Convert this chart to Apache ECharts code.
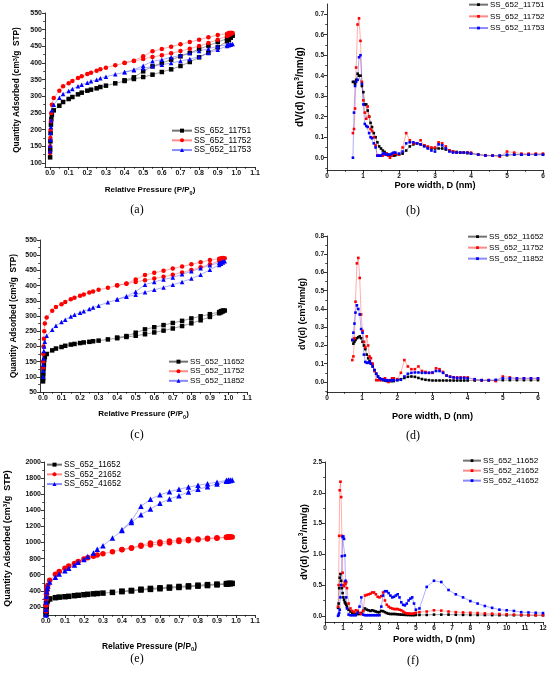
<!DOCTYPE html>
<html>
<head>
<meta charset="utf-8">
<script src="https://cdn.jsdelivr.net/npm/echarts@6/dist/echarts.min.js"></script>
<style>
  html, body { margin: 0; padding: 0; background: #fff; }
  #main { width: 550px; height: 674px; }
</style>
</head>
<body>
<div id="main"></div>
<script>
// ---- isotherms: relative pressure grid (adsorption up, desorption down)
var P_ADS = [0.0005, 0.001, 0.002, 0.003, 0.005, 0.007, 0.01, 0.02, 0.05, 0.07,
  0.1, 0.12, 0.15, 0.17, 0.2, 0.22, 0.25, 0.27, 0.3, 0.35, 0.4, 0.45, 0.5, 0.55,
  0.6, 0.65, 0.7, 0.75, 0.8, 0.85, 0.9, 0.95, 0.96, 0.97, 0.98];
var P_DES = [0.97, 0.96, 0.95, 0.9, 0.85, 0.8, 0.75, 0.7, 0.65, 0.6, 0.55, 0.5, 0.45, 0.4];

// quantity adsorbed, cm3/g STP
var Q_11751_ADS = [117, 140, 165, 190, 215, 232, 245, 258, 272, 283, 292, 298, 306, 311, 317, 320, 324, 328,
  332, 339, 346, 352, 358, 365, 373, 381, 391, 403, 417, 431, 447, 465, 470, 476, 482];
var Q_11751_DES = [482, 478, 473, 463, 452, 442, 430, 420, 410, 400, 390, 375, 357, 348];
var Q_11752_ADS = [130, 150, 175, 200, 225, 250, 275, 295, 317, 330, 339, 346, 355, 360, 367, 371, 377, 381,
  386, 393, 400, 406, 412, 418, 423, 429, 436, 443, 451, 460, 470, 481, 484, 487, 490];
var Q_11752_DES = [491, 490, 488, 484, 477, 470, 463, 456, 449, 442, 435, 420, 407, 401];
var Q_11753_ADS = [135, 152, 170, 190, 208, 228, 258, 275, 296, 307, 316, 322, 330, 335, 341, 345, 350, 354,
  359, 366, 372, 378, 384, 390, 395, 400, 406, 412, 419, 430, 440, 451, 453, 455, 457];
var Q_11753_DES = [457, 456, 455, 450, 443, 436, 430, 423, 417, 410, 405, 392, 380, 373];
var Q_11652_ADS = [85, 95, 110, 125, 140, 155, 165, 175, 187, 193, 198, 202, 206, 208, 211, 213, 215, 217,
  219, 223, 227, 231, 235, 240, 246, 252, 259, 267, 276, 286, 297, 309, 312, 315, 318];
var Q_11652_DES = [318, 316, 313, 306, 299, 292, 284, 277, 270, 263, 256, 245, 234, 229];
var Q_11852_ADS = [100, 120, 140, 160, 185, 200, 215, 235, 255, 268, 280, 288, 298, 304, 311, 316, 323, 328,
  334, 345, 354, 363, 370, 378, 386, 394, 403, 412, 423, 436, 452, 468, 472, 476, 480];
var Q_11852_DES = [480, 478, 475, 467, 457, 447, 437, 427, 420, 412, 403, 380, 365, 355];
var Q_11652E_ADS = [110, 150, 200, 240, 270, 285, 293, 300, 315, 322, 327, 332, 340, 345, 352, 357, 363, 367,
  372, 381, 390, 399, 410, 418, 426, 434, 442, 450, 458, 466, 474, 483, 486, 489, 492];
var Q_11652E_DES = [493, 492, 490, 484, 477, 470, 462, 454, 446, 438, 430, 420, 405, 396];
var Q_21652_ADS = [150, 220, 300, 360, 410, 440, 470, 530, 605, 640, 680, 710, 740, 765, 795, 810, 830, 845,
  860, 885, 910, 930, 955, 970, 984, 998, 1012, 1023, 1034, 1044, 1053, 1062, 1065, 1068, 1070];
var Q_21652_DES = [1072, 1071, 1068, 1060, 1052, 1045, 1038, 1030, 1018, 1008, 995, 965, 935, 912];
var Q_41652_ADS = [100, 170, 260, 330, 390, 430, 460, 510, 570, 610, 650, 680, 720, 755, 790, 825, 870, 915,
  960, 1055, 1150, 1250, 1345, 1415, 1488, 1540, 1582, 1628, 1662, 1692, 1727, 1760, 1765, 1770, 1775];
var Q_41652_DES = [1778, 1776, 1772, 1750, 1730, 1710, 1688, 1662, 1632, 1592, 1538, 1450, 1270, 1160];

// ---- pore size distributions, pore width in nm
var D_PSD = [0.72, 0.75, 0.78, 0.81, 0.85, 0.89, 0.93, 0.97, 1.01, 1.05, 1.09, 1.13, 1.17, 1.21,
  1.25, 1.3, 1.35, 1.4, 1.45, 1.5, 1.55, 1.6, 1.65, 1.7, 1.75, 1.8, 1.85, 1.9,
  2.0, 2.1, 2.2, 2.3, 2.4, 2.5, 2.6, 2.7, 2.8, 2.9, 3.0, 3.1, 3.2, 3.3, 3.4, 3.5, 3.6, 3.7, 3.8, 3.9, 4.0,
  4.2, 4.4, 4.6, 4.8, 5.0, 5.2, 5.4, 5.6, 5.8, 6.0];
var D_WIDE = [0.72, 0.75, 0.78, 0.81, 0.85, 0.89, 0.93, 0.97, 1.01, 1.05, 1.09, 1.13, 1.17, 1.21,
  1.3, 1.4, 1.5, 1.6, 1.7, 1.8, 1.9,
  2.0, 2.1, 2.2, 2.3, 2.4, 2.5, 2.6, 2.7, 2.8, 2.9, 3.0, 3.1, 3.2, 3.3, 3.4, 3.5, 3.6, 3.7, 3.8, 3.9, 4.0,
  4.1, 4.2, 4.3, 4.4, 4.5, 4.6, 4.7, 4.8, 4.9, 5.0,
  5.2, 5.6, 6.0, 6.4, 6.8, 7.2, 7.6, 8.0, 8.4, 8.8, 9.2, 9.6, 10.0, 10.4, 10.8, 11.2, 11.6, 12.0];

// dV(d), cm3/nm/g
var V_11751 = [0.37, 0.37, 0.36, 0.38, 0.41, 0.40, 0.40, 0.35, 0.32, 0.26, 0.26, 0.23, 0.20, 0.17,
  0.15, 0.12, 0.10, 0.075, 0.055, 0.045, 0.035, 0.028, 0.02, 0.015, 0.01, 0.01, 0.01, 0.012,
  0.015, 0.02, 0.035, 0.055, 0.065, 0.07, 0.065, 0.06, 0.05, 0.045, 0.045, 0.045, 0.045, 0.04, 0.035, 0.03, 0.028, 0.025, 0.025, 0.022, 0.02,
  0.015, 0.012, 0.01, 0.01, 0.012, 0.015, 0.015, 0.015, 0.015, 0.015];
var V_11752 = [0.12, 0.14, 0.24, 0.44, 0.65, 0.68, 0.57, 0.37, 0.28, 0.22, 0.19, 0.25, 0.20, 0.14,
  0.13, 0.10, 0.06, 0.01, 0.01, 0.01, 0.01, 0.015, 0.02, 0.01, 0.0, 0.01, 0.02, 0.02,
  0.015, 0.05, 0.12, 0.085, 0.07, 0.07, 0.085, 0.06, 0.055, 0.05, 0.05, 0.075, 0.07, 0.055, 0.035, 0.03, 0.025, 0.025, 0.025, 0.025, 0.025,
  0.015, 0.01, 0.01, 0.005, 0.03, 0.025, 0.02, 0.02, 0.02, 0.02];
var V_11753 = [0.0, 0.22, 0.35, 0.37, 0.38, 0.49, 0.50, 0.36, 0.26, 0.165, 0.155, 0.15, 0.12, 0.10,
  0.095, 0.07, 0.05, 0.01, 0.01, 0.01, 0.02, 0.02, 0.015, 0.015, 0.015, 0.02, 0.025, 0.025,
  0.02, 0.03, 0.07, 0.075, 0.075, 0.07, 0.065, 0.055, 0.045, 0.035, 0.03, 0.065, 0.06, 0.045, 0.03, 0.025, 0.025, 0.025, 0.025, 0.025, 0.02,
  0.015, 0.01, 0.01, 0.01, 0.015, 0.015, 0.015, 0.015, 0.015, 0.015];
var V_11652 = [0.23, 0.21, 0.22, 0.23, 0.24, 0.245, 0.25, 0.24, 0.22, 0.20, 0.18, 0.15, 0.13, 0.115,
  0.10, 0.085, 0.065, 0.045, 0.03, 0.02, 0.015, 0.01, 0.008, 0.005, 0.005, 0.005, 0.005, 0.005,
  0.01, 0.015, 0.022, 0.028, 0.03, 0.028, 0.022, 0.016, 0.012, 0.01, 0.008, 0.008, 0.008, 0.008, 0.008, 0.008, 0.008, 0.008, 0.008, 0.008, 0.008,
  0.008, 0.008, 0.008, 0.008, 0.01, 0.01, 0.01, 0.01, 0.01, 0.01];
var V_11852 = [0.23, 0.27, 0.32, 0.38, 0.42, 0.40, 0.37, 0.29, 0.27, 0.15, 0.11, 0.105, 0.105, 0.11,
  0.10, 0.085, 0.065, 0.045, 0.03, 0.02, 0.015, 0.012, 0.01, 0.008, 0.008, 0.008, 0.01, 0.01,
  0.01, 0.012, 0.03, 0.045, 0.05, 0.052, 0.052, 0.05, 0.05, 0.05, 0.052, 0.06, 0.06, 0.05, 0.035, 0.028, 0.025, 0.022, 0.022, 0.022, 0.02,
  0.015, 0.01, 0.01, 0.012, 0.02, 0.02, 0.02, 0.02, 0.02, 0.02];
var F_11652 = [0.13, 0.20, 0.45, 0.62, 0.68, 0.57, 0.45, 0.37, 0.30, 0.26, 0.22, 0.20, 0.18, 0.15,
  0.10, 0.07, 0.05, 0.04, 0.03, 0.03, 0.03,
  0.04, 0.08, 0.12, 0.10, 0.09, 0.08, 0.09, 0.08, 0.07, 0.06, 0.06, 0.08, 0.075, 0.06, 0.045, 0.035, 0.03, 0.03, 0.03, 0.028, 0.025,
  0.022, 0.02, 0.018, 0.016, 0.015, 0.014, 0.013, 0.012, 0.012, 0.015,
  0.015, 0.015, 0.02, 0.02, 0.02, 0.018, 0.016, 0.015, 0.014, 0.013, 0.012, 0.011, 0.01, 0.01, 0.01, 0.01, 0.01, 0.01];
var F_21652 = [0.15, 0.50, 1.30, 2.04, 2.18, 1.93, 1.30, 0.70, 0.50, 0.48, 0.55, 0.52, 0.55, 0.45,
  0.20, 0.12, 0.08, 0.06, 0.09, 0.08, 0.05,
  0.03, 0.08, 0.33, 0.34, 0.35, 0.36, 0.38, 0.38, 0.35, 0.31, 0.30, 0.32, 0.38, 0.25, 0.18, 0.15, 0.13, 0.12, 0.11, 0.11, 0.11,
  0.10, 0.09, 0.07, 0.05, 0.04, 0.04, 0.035, 0.035, 0.04, 0.05,
  0.06, 0.07, 0.09, 0.085, 0.07, 0.06, 0.055, 0.05, 0.045, 0.04, 0.035, 0.03, 0.025, 0.02, 0.015, 0.012, 0.01, 0.01];
var F_41652 = [0.0, 0.02, 0.05, 0.10, 0.30, 0.50, 0.97, 1.28, 1.29, 1.25, 0.98, 0.57, 0.30, 0.12,
  0.02, 0.01, 0.01, 0.01, 0.01, 0.05, 0.15,
  0.30, 0.02, 0.01, 0.01, 0.01, 0.01, 0.01, 0.01, 0.01, 0.01, 0.01, 0.15, 0.33, 0.40, 0.40, 0.37, 0.33, 0.30, 0.31, 0.33, 0.35,
  0.30, 0.22, 0.18, 0.17, 0.20, 0.25, 0.28, 0.30, 0.20, 0.10,
  0.12, 0.47, 0.57, 0.55, 0.42, 0.35, 0.30, 0.24, 0.20, 0.16, 0.13, 0.10, 0.09, 0.08, 0.06, 0.055, 0.05, 0.045];

// ---- tick labels
var TICKS_P = [0, 0.1, 0.2, 0.3, 0.4, 0.5, 0.6, 0.7, 0.8, 0.9, 1.0, 1.1];
var TICKS_D6 = [0, 1, 2, 3, 4, 5, 6];
var TICKS_D12 = [0, 1, 2, 3, 4, 5, 6, 7, 8, 9, 10, 11, 12];
var TICKS_QA = [100, 150, 200, 250, 300, 350, 400, 450, 500, 550];
var TICKS_QC = [50, 100, 150, 200, 250, 300, 350, 400, 450, 500, 550];
var TICKS_QE = [200, 400, 600, 800, 1000, 1200, 1400, 1600, 1800, 2000];
var TICKS_VB = [0, 0.1, 0.2, 0.3, 0.4, 0.5, 0.6, 0.7];
var TICKS_VD = [0, 0.1, 0.2, 0.3, 0.4, 0.5, 0.6, 0.7, 0.8];
var TICKS_VF = [0, 0.5, 1.0, 1.5, 2.0, 2.5];

var FONT = 'Liberation Sans, Arial, sans-serif';
var BLACK = '#000000', RED = '#ff0000', BLUE = '#0000ff';

function loop(ads, des) {
  return P_ADS.map(function (p, i) { return [p, ads[i]]; })
    .concat(P_DES.map(function (p, i) { return [p, des[i]]; }));
}
function pairs(xs, ys) {
  return xs.map(function (x, i) { return [x, ys[i]]; });
}
// minor ticks half way between the labelled ones
function mids(ticks, min, max) {
  var out = [];
  for (var i = 0; i < ticks.length; i++) {
    var step = i < ticks.length - 1 ? ticks[i + 1] - ticks[i] : ticks[i] - ticks[i - 1];
    [ticks[i] - step / 2, ticks[i] + step / 2].forEach(function (m) {
      m = +m.toFixed(4);
      if (m > min && m < max && out.indexOf(m) < 0) out.push(m);
    });
  }
  return out;
}

var XNAME_P = 'Relative Pressure (P/P{sub|0})';
var XNAME_D = 'Pore width, D (nm)';
var YNAME_Q = 'Quantity Adsorbed (cm{sup|3}/g  STP)';
var YNAME_V = 'dV(d) (cm{sup|3}/nm/g)';

var fix1 = function (v) { return v.toFixed(1); };
var int0 = function (v) { return String(Math.round(v)); };

// layout of the six panels
var panels = [
  { grid: { left: 45, top: 13, width: 210, height: 154 },
    x: { min: -0.027, max: 1.1, ticks: TICKS_P, fmt: fix1, name: XNAME_P, gap: 17, fs: 8, ls: 7 },
    y: { min: 88, max: 550, ticks: TICKS_QA, fmt: int0, name: YNAME_Q, gap: 23, fs: 8.3, ls: 7 },
    legend: { left: 171, top: 126, w: 20, gap: 0.4, fs: 8.4 }, tag: '(a)', tagPos: [137, 210] },
  { grid: { left: 327, top: 4, width: 216, height: 166 },
    x: { min: 0, max: 6, ticks: TICKS_D6, fmt: int0, name: XNAME_D, gap: 10, fs: 9.2, ls: 6.5 },
    y: { min: -0.06, max: 0.75, ticks: TICKS_VB, fmt: fix1, name: YNAME_V, gap: 21, fs: 10, ls: 6.5 },
    legend: { left: 468, top: 0, w: 19, gap: 2.4, fs: 8 }, tag: '(b)', tagPos: [413, 211] },
  { grid: { left: 40, top: 240, width: 207, height: 152 },
    x: { min: -0.016, max: 1.1, ticks: TICKS_P, fmt: fix1, name: XNAME_P, gap: 16, fs: 8, ls: 7 },
    y: { min: 50, max: 550, ticks: TICKS_QC, fmt: int0, name: YNAME_Q, gap: 21, fs: 8.2, ls: 7 },
    legend: { left: 168, top: 357, w: 19, gap: 0.3, fs: 8 }, tag: '(c)', tagPos: [137, 435] },
  { grid: { left: 327, top: 236, width: 211, height: 156 },
    x: { min: 0, max: 6, ticks: TICKS_D6, fmt: int0, name: XNAME_D, gap: 20, fs: 9.2, ls: 6.5 },
    y: { min: -0.055, max: 0.8, ticks: TICKS_VD, fmt: fix1, name: YNAME_V, gap: 19, fs: 9, ls: 6.5 },
    legend: { left: 467, top: 232, w: 19, gap: 1.7, fs: 8 }, tag: '(d)', tagPos: [413, 436] },
  { grid: { left: 44, top: 462, width: 211, height: 153 },
    x: { min: -0.01, max: 1.1, ticks: TICKS_P, fmt: fix1, name: XNAME_P, gap: 25, fs: 8.4, ls: 7 },
    y: { min: 100, max: 2000, ticks: TICKS_QE, fmt: int0, name: YNAME_Q, gap: 31, fs: 9, ls: 7 },
    legend: { left: 46, top: 460, w: 15, gap: 0.4, fs: 8.3 }, tag: '(e)', tagPos: [137, 659] },
  { grid: { left: 325, top: 462, width: 218, height: 160 },
    x: { min: 0, max: 12, ticks: TICKS_D12, fmt: int0, name: XNAME_D, gap: 13, fs: 9.3, ls: 6.5 },
    y: { min: -0.1, max: 2.5, ticks: TICKS_VF, fmt: fix1, name: YNAME_V, gap: 15, fs: 9.5, ls: 6.5 },
    legend: { left: 462, top: 456, w: 18, gap: 0.7, fs: 8.1 }, tag: '(f)', tagPos: [413, 661] }
];

// series per panel: [name, data, colour, symbol]
var panelSeries = [
  [['SS_652_11751', loop(Q_11751_ADS, Q_11751_DES), BLACK, 'rect'],
   ['SS_652_11752', loop(Q_11752_ADS, Q_11752_DES), RED, 'circle'],
   ['SS_652_11753', loop(Q_11753_ADS, Q_11753_DES), BLUE, 'triangle']],
  [['SS_652_11751', pairs(D_PSD, V_11751), BLACK, 'rect'],
   ['SS_652_11752', pairs(D_PSD, V_11752), RED, 'rect'],
   ['SS_652_11753', pairs(D_PSD, V_11753), BLUE, 'rect']],
  [['SS_652_11652', loop(Q_11652_ADS, Q_11652_DES), BLACK, 'rect'],
   ['SS_652_11752', loop(Q_11752_ADS, Q_11752_DES), RED, 'circle'],
   ['SS_652_11852', loop(Q_11852_ADS, Q_11852_DES), BLUE, 'triangle']],
  [['SS_652_11652', pairs(D_PSD, V_11652), BLACK, 'rect'],
   ['SS_652_11752', pairs(D_PSD, V_11752), RED, 'rect'],
   ['SS_652_11852', pairs(D_PSD, V_11852), BLUE, 'rect']],
  [['SS_652_11652', loop(Q_11652E_ADS, Q_11652E_DES), BLACK, 'rect'],
   ['SS_652_21652', loop(Q_21652_ADS, Q_21652_DES), RED, 'circle'],
   ['SS_652_41652', loop(Q_41652_ADS, Q_41652_DES), BLUE, 'triangle']],
  [['SS_652_11652', pairs(D_WIDE, F_11652), BLACK, 'rect'],
   ['SS_652_21652', pairs(D_WIDE, F_21652), RED, 'rect'],
   ['SS_652_41652', pairs(D_WIDE, F_41652), BLUE, 'rect']]
];
var symbolSizes = [4.5, 2.6, 4.5, 2.6, 5.5, 2.6];
var lineColours = { '#000000': 'rgba(0,0,0,0.55)', '#ff0000': 'rgba(255,60,60,0.6)', '#0000ff': 'rgba(60,60,255,0.6)' };

function nameStyle(fs) {
  return {
    fontFamily: FONT, fontSize: fs, fontWeight: 'bold', color: '#000',
    rich: {
      sup: { fontFamily: FONT, fontSize: fs * 0.68, fontWeight: 'bold', verticalAlign: 'top', lineHeight: fs * 1.2 },
      sub: { fontFamily: FONT, fontSize: fs * 0.68, fontWeight: 'bold', verticalAlign: 'bottom', lineHeight: fs * 1.5 }
    }
  };
}

function mainAxis(gi, a, pos) {
  return {
    type: 'value', gridIndex: gi, position: pos, min: a.min, max: a.max,
    name: a.name, nameLocation: 'middle', nameGap: a.gap, nameTextStyle: nameStyle(a.fs),
    splitLine: { show: false },
    axisLine: { show: true, onZero: false, lineStyle: { color: '#000', width: 0.8 } },
    axisTick: { show: true, length: 3, customValues: a.ticks, lineStyle: { color: '#000', width: 0.8 } },
    axisLabel: { customValues: a.ticks, formatter: a.fmt, fontFamily: FONT, fontSize: a.ls,
      fontWeight: 'bold', color: '#111', margin: 3 }
  };
}
function minorAxis(gi, a, pos) {
  return {
    type: 'value', gridIndex: gi, position: pos, min: a.min, max: a.max, offset: 0,
    splitLine: { show: false }, axisLine: { show: false, onZero: false },
    axisTick: { show: true, length: 1.8, customValues: mids(a.ticks, a.min, a.max), lineStyle: { color: '#000', width: 0.7 } },
    axisLabel: { show: false }
  };
}

var grids = [], xAxes = [], yAxes = [], series = [], legends = [], graphics = [];
panels.forEach(function (pn, i) {
  grids.push(Object.assign({ outerBoundsMode: 'none', containLabel: false }, pn.grid));
  xAxes.push(mainAxis(i, pn.x, 'bottom'), minorAxis(i, pn.x, 'bottom'));
  yAxes.push(mainAxis(i, pn.y, 'left'), minorAxis(i, pn.y, 'left'));
  var names = [];
  panelSeries[i].forEach(function (s) {
    var id = s[0] + '#' + i;
    names.push(id);
    series.push({
      type: 'line', name: id, xAxisIndex: 2 * i, yAxisIndex: 2 * i, data: s[1],
      symbol: s[3], symbolSize: symbolSizes[i], showAllSymbol: true, animation: false,
      itemStyle: { color: s[2] },
      lineStyle: { color: lineColours[s[2]], width: 0.7 }
    });
  });
  var lg = pn.legend;
  legends.push({
    data: names, orient: 'vertical', left: lg.left, top: lg.top,
    itemWidth: lg.w, itemHeight: i % 2 ? 3.5 : 5, itemGap: lg.gap,
    formatter: function (n) { return n.split('#')[0]; },
    textStyle: { fontFamily: FONT, fontSize: lg.fs, color: '#000', lineHeight: 9.3, padding: [0, 0, 0, -3] },
    selectedMode: false, padding: 0
  });
  graphics.push({
    type: 'text', x: pn.tagPos[0], y: pn.tagPos[1],
    style: { text: pn.tag, fill: '#000', font: '12px "Liberation Serif", serif',
      textAlign: 'center', textVerticalAlign: 'middle' }
  });
});

var chart = echarts.init(document.getElementById('main'), null, { renderer: 'canvas' });
chart.setOption({
  backgroundColor: '#fff',
  animation: false,
  grid: grids,
  xAxis: xAxes,
  yAxis: yAxes,
  legend: legends,
  graphic: graphics,
  series: series
});
</script>
</body>
</html>
